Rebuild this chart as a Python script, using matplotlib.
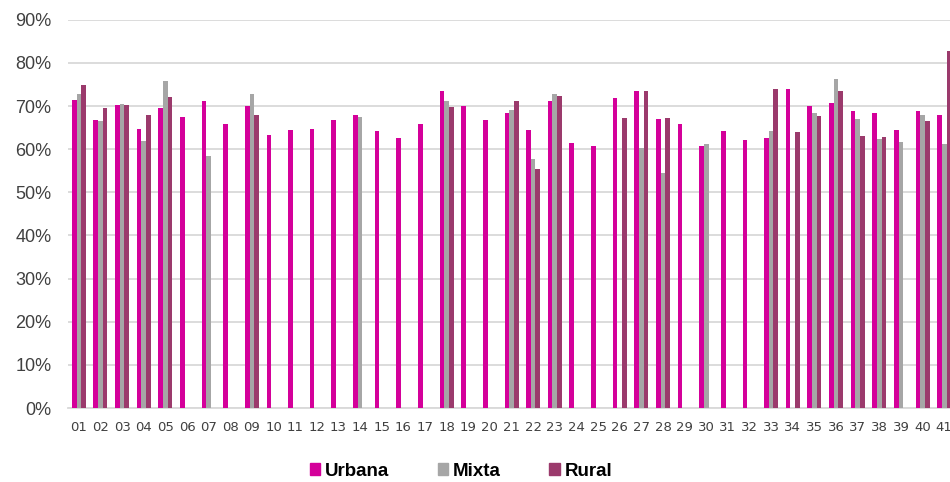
import numpy as np
import matplotlib.pyplot as plt
from matplotlib.patches import Patch
from matplotlib.ticker import FuncFormatter

nan = np.nan

codes = ['%02d' % i for i in range(1, 42)]

urbana = [71.5, 66.8, 70.2, 64.7, 69.5, 67.5, 71.2, 65.8, 70.0, 63.2,
          64.5, 64.7, 66.7, 68.0, 64.2, 62.5, 65.8, 73.5, 70.1, 66.8,
          68.5, 64.5, 71.2, 61.4, 60.8, 71.8, 73.5, 66.9, 65.8, 60.8,
          64.2, 62.2, 62.5, 73.9, 70.0, 70.8, 68.8, 68.3, 64.4, 68.8,
          67.9]
mixta = [72.7, 66.6, 70.5, 61.9, 75.8, nan, 58.5, nan, 72.9, nan,
         nan, nan, nan, 67.4, nan, nan, nan, 71.2, nan, nan,
         69.1, 57.8, 72.7, nan, nan, nan, 60.2, 54.5, nan, 61.2,
         nan, nan, 64.2, nan, 68.3, 76.2, 66.9, 62.3, 61.7, 67.9,
         61.3]
rural = [74.8, 69.5, 70.2, 67.9, 72.0, nan, nan, nan, 67.9, nan,
         nan, nan, nan, nan, nan, nan, nan, 69.8, nan, nan,
         71.1, 55.5, 72.3, nan, nan, 67.3, 73.5, 67.3, nan, nan,
         nan, nan, 73.9, 63.9, 67.8, 73.5, 63.1, 62.9, nan, 66.5,
         82.8]

series = [('Urbana', urbana, '#D4009A'),
          ('Mixta', mixta, '#A6A6A6'),
          ('Rural', rural, '#9B3A6C')]

fig = plt.figure(figsize=(9.5, 4.82), dpi=100)
ax = fig.add_axes([0.0716, 0.1535, 0.9337, 0.8055])

x = np.arange(len(codes))
w = 0.215
for k, (name, vals, col) in enumerate(series):
    v = np.array(vals) / 100
    ok = ~np.isnan(v)
    ax.bar(x[ok] + (k - 1) * w, v[ok], width=w, color=col, zorder=3)

ax.set_xlim(-0.5, len(codes) - 0.5)
ax.set_ylim(0, 0.9)
ax.set_yticks(np.arange(0, 0.91, 0.1))
ax.yaxis.set_major_formatter(FuncFormatter(lambda v, p: '%d%%' % round(v * 100)))
ax.grid(axis='y', color='#D9D9D9', linewidth=1.3, zorder=0)
ax.set_xticks(x)
ax.set_xticklabels(codes, fontfamily='Liberation Sans Narrow', fontsize=9.5,
                   color='#404040')
for t in ax.get_yticklabels():
    t.set_fontfamily('Liberation Sans')
    t.set_fontsize(13)
    t.set_color('#404040')
ax.tick_params(axis='both', length=0)
ax.tick_params(axis='y', pad=12)
ax.tick_params(axis='x', pad=9)
for s in ['top', 'right', 'left']:
    ax.spines[s].set_visible(False)
ax.spines['bottom'].set_color('#D9D9D9')
ax.spines['bottom'].set_linewidth(1.3)

handles = [Patch(color=c, label=n) for n, _, c in series]
fig.legend(handles=handles, loc='center', bbox_to_anchor=(461 / 950, 1 - 471 / 482),
           ncol=3, frameon=False, handlelength=0.55, handleheight=0.55,
           handletextpad=0.25, columnspacing=2.6,
           prop={'family': 'Liberation Sans', 'weight': 'bold', 'size': 13.5})

fig.savefig('out.png', dpi=100)
